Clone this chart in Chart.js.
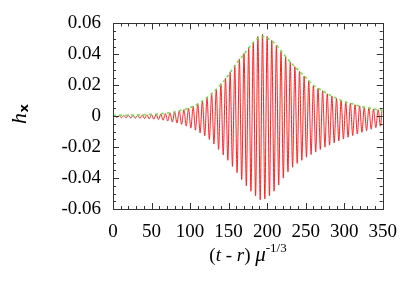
<!DOCTYPE html>
<html>
<head>
<meta charset="utf-8">
<script src="https://cdn.jsdelivr.net/npm/chart.js@4.4.0/dist/chart.umd.min.js"></script>
<style>
  html, body { margin: 0; padding: 0; background: #fff; }
</style>
</head>
<body>
<canvas id="waveChart" width="409" height="284"></canvas>
<script>
'use strict';

// times and values of the red maxima
var peakT = [2, 8, 14, 20, 26, 32, 38, 44, 50, 56, 62, 68, 74, 80, 86, 92, 98, 104, 110, 116,
    122, 128, 134, 140, 146, 152, 158, 164, 170, 176, 182, 188, 194, 200, 206, 212, 218, 224,
    230, 236, 242, 248, 254, 260, 266, 272, 278, 284, 290, 296, 302, 308, 314, 320, 326, 332,
    338, 344, 349];
var peakH = [0.0004, 0.0005, 0.0005, 0.0006, 0.0006, 0.0007, 0.0008, 0.0009, 0.0010, 0.0012,
    0.0014, 0.0017, 0.0021, 0.0027, 0.0034, 0.0042, 0.0051, 0.0064, 0.0080, 0.0098,
    0.0120, 0.0145, 0.0175, 0.0210, 0.0245, 0.0285, 0.0330, 0.0370, 0.0405, 0.0445,
    0.0480, 0.0515, 0.0530, 0.0515, 0.0490, 0.0460, 0.0420, 0.0385, 0.0350, 0.0320,
    0.0290, 0.0260, 0.0230, 0.0200, 0.0180, 0.0165, 0.0145, 0.0130, 0.0115, 0.0103,
    0.0093, 0.0083, 0.0074, 0.0066, 0.0059, 0.0053, 0.0047, 0.0042, 0.0038];

// times and values of the red minima
var troughT = [5, 11, 17, 23, 29, 35, 41, 47, 53, 59, 65, 71, 77, 83, 89, 95, 101, 107, 113, 119,
    125, 131, 137, 143, 149, 155, 161, 167, 173, 179, 185, 191, 197, 203, 209, 215, 221, 227,
    233, 239, 245, 251, 257, 263, 269, 275, 281, 287, 293, 299, 305, 311, 317, 323, 329, 335,
    341, 347];
var troughH = [-0.0009, -0.0010, -0.0011, -0.0012, -0.0013, -0.0014, -0.0015, -0.0017, -0.0019, -0.0021,
    -0.0026, -0.0031, -0.0037, -0.0044, -0.0053, -0.0064, -0.0077, -0.0090, -0.0108, -0.0127,
    -0.0150, -0.0180, -0.0215, -0.0250, -0.0285, -0.0325, -0.0365, -0.0410, -0.0450, -0.0485,
    -0.0515, -0.0540, -0.0535, -0.0515, -0.0485, -0.0445, -0.0400, -0.0360, -0.0330, -0.0305,
    -0.0285, -0.0265, -0.0248, -0.0232, -0.0215, -0.0200, -0.0187, -0.0172, -0.0160, -0.0148,
    -0.0136, -0.0125, -0.0115, -0.0104, -0.0094, -0.0084, -0.0074, -0.0065];

// green dashed amplitude curve
var envT = [0, 20, 40, 60, 80, 100, 115, 130, 145, 160, 170, 180, 190, 195, 200, 210, 220, 230,
    240, 250, 260, 270, 280, 290, 300, 310, 320, 330, 340, 350];
var envH = [0.0005, 0.0007, 0.0010, 0.0015, 0.0028, 0.0055, 0.0095, 0.0155, 0.0235, 0.0340,
    0.0400, 0.0465, 0.0512, 0.0515, 0.0505, 0.0470, 0.0410, 0.0350, 0.0300, 0.0250,
    0.0200, 0.0170, 0.0140, 0.0115, 0.0095, 0.0080, 0.0065, 0.0055, 0.0045, 0.0038];

var xTickValues = [0, 50, 100, 150, 200, 250, 300, 350];
var yTickValues = [-0.06, -0.04, -0.02, 0, 0.02, 0.04, 0.06];

// merge maxima and minima into one time-ordered wave
var wave = [];
peakT.forEach(function (t, i) { wave.push({ x: t, y: peakH[i] }); });
troughT.forEach(function (t, i) { wave.push({ x: t, y: troughH[i] }); });
wave.sort(function (a, b) { return a.x - b.x; });

var envelope = envT.map(function (t, i) { return { x: t, y: envH[i] }; });

var SERIF = '"Liberation Serif", "DejaVu Serif", serif';

// frame, inward ticks and the two axis titles
var frameTicks = {
    id: 'frameTicks',
    afterDraw: function (chart) {
        var ctx = chart.ctx, a = chart.chartArea;
        var xs = chart.scales.x, ys = chart.scales.y;
        var v, k, px, py, len;
        ctx.save();
        ctx.strokeStyle = '#333';
        ctx.lineWidth = 1;
        ctx.strokeRect(Math.round(a.left) + 0.5, Math.round(a.top) + 0.5,
            Math.round(a.right - a.left), Math.round(a.bottom - a.top));
        ctx.beginPath();
        for (v = 0; v <= 350; v += 10) {
            len = v % 50 === 0 ? 6 : 3;
            px = Math.round(xs.getPixelForValue(v)) + 0.5;
            ctx.moveTo(px, a.bottom); ctx.lineTo(px, a.bottom - len);
            ctx.moveTo(px, a.top); ctx.lineTo(px, a.top + len);
        }
        for (k = -12; k <= 12; k++) {
            len = k % 4 === 0 ? 6 : 3;
            py = Math.round(ys.getPixelForValue(k * 0.005)) + 0.5;
            ctx.moveTo(a.left, py); ctx.lineTo(a.left + len, py);
            ctx.moveTo(a.right, py); ctx.lineTo(a.right - len, py);
        }
        ctx.stroke();

        // y title: h with subscript x, rotated
        ctx.fillStyle = '#000';
        ctx.textBaseline = 'alphabetic';
        ctx.translate(26, 124);
        ctx.rotate(-Math.PI / 2);
        ctx.font = 'italic 22px ' + SERIF;
        ctx.fillText('h', 0, 0);
        var hw = ctx.measureText('h').width;
        ctx.font = 'bold 13px "DejaVu Sans", sans-serif';
        ctx.fillText('x', hw + 0.5, 2);
        ctx.setTransform(1, 0, 0, 1, 0, 0);

        // x title: (t - r) mu^-1/3
        var parts = [
            { s: '(', f: '19px ' + SERIF, dy: 0 },
            { s: 't', f: 'italic 19px ' + SERIF, dy: 0 },
            { s: ' - ', f: '19px ' + SERIF, dy: 0 },
            { s: 'r', f: 'italic 19px ' + SERIF, dy: 0 },
            { s: ') ', f: '19px ' + SERIF, dy: 0 },
            { s: '\u03bc', f: 'italic 21px ' + SERIF, dy: 0 },
            { s: '-1/3', f: '13px ' + SERIF, dy: -9 }
        ];
        var total = 0;
        parts.forEach(function (p) { ctx.font = p.f; p.w = ctx.measureText(p.s).width; total += p.w; });
        var x0 = 248 - total / 2;
        parts.forEach(function (p) {
            ctx.font = p.f;
            ctx.fillText(p.s, x0, 261 + p.dy);
            x0 += p.w;
        });
        ctx.restore();
    }
};

var ctx = document.getElementById('waveChart').getContext('2d');
var waveChart = new Chart(ctx, {
    type: 'line',
    data: {
        datasets: [{
            data: envelope,
            borderColor: '#55ee44',
            borderWidth: 1.5,
            borderDash: [3, 3],
            pointRadius: 0,
            tension: 0.3,
            order: 0
        }, {
            data: wave,
            borderColor: '#ff2020',
            borderWidth: 1,
            pointRadius: 0,
            tension: 0.3,
            order: 1
        }]
    },
    options: {
        responsive: false,
        animation: false,
        layout: { padding: { top: 18, right: 22, left: 0, bottom: 0 } },
        plugins: { legend: { display: false }, tooltip: { enabled: false } },
        scales: {
            x: {
                type: 'linear',
                min: 0, max: 350,
                afterBuildTicks: function (scale) {
                    scale.ticks = xTickValues.map(function (v) { return { value: v }; });
                },
                afterFit: function (scale) { scale.height = 75; },
                grid: { display: false, drawTicks: false },
                border: { display: false },
                ticks: { color: '#000', padding: 12, maxRotation: 0,
                    font: { family: SERIF, size: 19 } }
            },
            y: {
                type: 'linear',
                min: -0.06, max: 0.06,
                afterBuildTicks: function (scale) {
                    scale.ticks = yTickValues.map(function (v) { return { value: v }; });
                },
                afterFit: function (scale) { scale.width = 113; },
                grid: { display: false, drawTicks: false },
                border: { display: false },
                ticks: {
                    color: '#000', padding: 12,
                    font: { family: SERIF, size: 19 },
                    callback: function (v) { return Math.abs(v) < 1e-9 ? '0' : v.toFixed(2); }
                }
            }
        }
    },
    plugins: [frameTicks]
});
</script>
</body>
</html>
